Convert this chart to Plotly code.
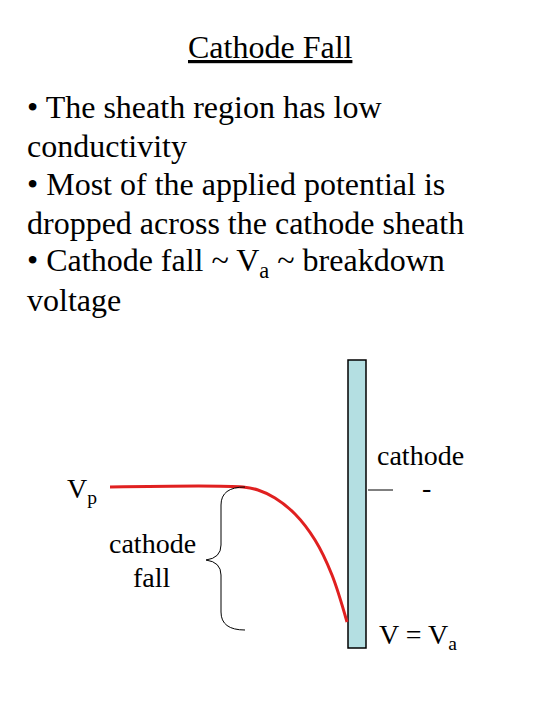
import plotly.graph_objects as go

TITLE = "<u>Cathode Fall</u>"
BULLETS = [
    "• The sheath region has low",
    "conductivity",
    "• Most of the applied potential is",
    "dropped across the cathode sheath",
    "• Cathode fall ~ V<sub>a</sub> ~ breakdown",
    "voltage",
]
BULLET_Y = [107, 146, 184, 223, 262, 300]

# potential curve (pixel coords on a 540x720 canvas)
curve_x = [110, 243, 258, 275, 295, 315, 332, 347]
curve_y = [487, 487, 490, 498, 514, 540, 575, 622]

FONT = "Liberation Serif, Times New Roman, serif"

fig = go.Figure()
fig.add_trace(go.Scatter(x=curve_x, y=curve_y, mode="lines",
                         line=dict(color="#e02020", width=3, shape="spline"),
                         showlegend=False, hoverinfo="skip"))

# cathode plate
fig.add_shape(type="rect", x0=348, x1=366, y0=360, y1=648,
              fillcolor="#b4dfe2", line=dict(color="black", width=1.5), layer="below")
# short line next to cathode
fig.add_shape(type="line", x0=368, x1=393, y0=490, y1=490, line=dict(color="black", width=1))
# brace
fig.add_shape(type="path",
              path="M 245 487 Q 221 487 221 505 L 221 545 Q 221 558 206 560 "
                   "Q 221 562 221 575 L 221 612 Q 221 630 245 630",
              line=dict(color="black", width=1))

ann = [
    (420, 455, "cathode"),
    (426, 487, "-"),
    (82, 490, "V<sub>p</sub>"),
    (152, 543, "cathode"),
    (152, 577, "fall"),
    (418, 636, "V = V<sub>a</sub>"),
]
fig.add_annotation(x=270, y=47, text=TITLE, showarrow=False, xanchor="center", yanchor="middle",
                   font=dict(family=FONT, size=32, color="black"))
for x, y, t in ann:
    fig.add_annotation(x=x, y=y, text=t, showarrow=False, xanchor="center", yanchor="middle",
                       font=dict(family=FONT, size=28, color="black"))
for t, y in zip(BULLETS, BULLET_Y):
    fig.add_annotation(x=25, y=y, text=t, showarrow=False, xanchor="left", yanchor="middle",
                       font=dict(family=FONT, size=32, color="black"))

# ranges offset by the 8px page margin so pixel coords line up
fig.update_layout(width=540, height=720, margin=dict(l=0, r=0, t=0, b=0),
                  plot_bgcolor="white", paper_bgcolor="white",
                  xaxis=dict(range=[8, 548], visible=False, fixedrange=True),
                  yaxis=dict(range=[728, 8], visible=False, fixedrange=True))
fig.write_html("out.html")
